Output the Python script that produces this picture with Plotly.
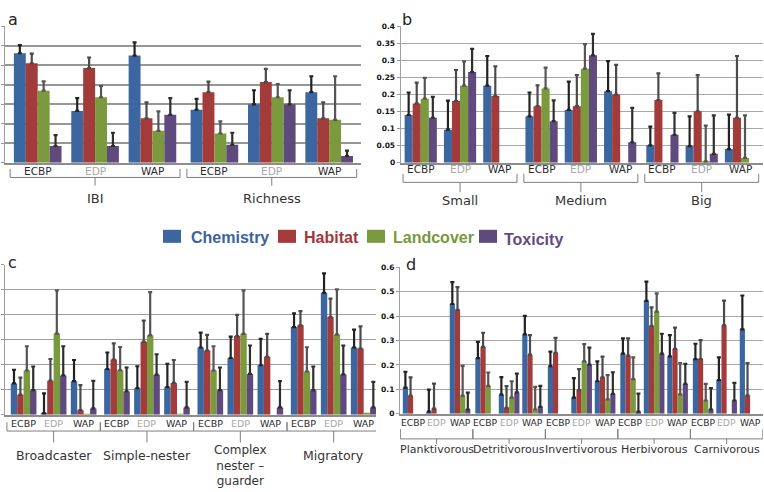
import numpy as np
import plotly.graph_objects as go

W, H = 764, 492

SERIES = ["Chemistry", "Habitat", "Landcover", "Toxicity"]
COLORS = ["#3b66a0", "#a23b39", "#7a9a3d", "#5f4a7e"]
TEXT_COLORS = ["#3a63a0", "#a0373a", "#78983c", "#634b82"]
ERR_COLORS = ["#222222", "#4a4a4a", "#555555", "#2e2e2e"]
SUBS = ["ECBP", "EDP", "WAP"]
SUB_COLORS = {"ECBP": "#2b2b2b", "EDP": "#a8a8a8", "WAP": "#2b2b2b"}

# ---------------- panel a ----------------
A_GROUPS = ["IBI", "Richness"]
A_CHEM = [0.281, 0.133, 0.275, 0.136, 0.150, 0.181]
A_CHEM_TOP = [0.302, 0.166, 0.309, 0.164, 0.186, 0.222]
A_HAB = [0.255, 0.243, 0.114, 0.181, 0.207, 0.114]
A_HAB_TOP = [0.280, 0.270, 0.155, 0.208, 0.241, 0.155]
A_LAND = [0.185, 0.168, 0.082, 0.075, 0.168, 0.110]
A_LAND_TOP = [0.209, 0.197, 0.132, 0.106, 0.202, 0.222]
A_TOX = [0.043, 0.043, 0.123, 0.046, 0.150, 0.017]
A_TOX_TOP = [0.071, 0.077, 0.166, 0.077, 0.186, 0.031]

# ---------------- panel b ----------------
B_GROUPS = ["Small", "Medium", "Big"]
B_CHEM = [0.140, 0.097, 0.226, 0.136, 0.155, 0.210, 0.051, 0.049, 0.040]
B_CHEM_TOP = [0.206, 0.182, 0.313, 0.206, 0.238, 0.298, 0.106, 0.136, 0.141]
B_HAB = [0.174, 0.181, 0.196, 0.166, 0.166, 0.200, 0.184, 0.151, 0.132]
B_HAB_TOP = [0.235, 0.272, 0.283, 0.227, 0.257, 0.287, 0.262, 0.257, 0.313]
B_LAND = [0.188, 0.226, 0, 0.218, 0.276, 0, 0, 0.004, 0.014]
B_LAND_TOP = [0.249, 0.297, None, 0.279, 0.348, None, None, 0.109, 0.139]
B_TOX = [0.132, 0.266, 0, 0.122, 0.315, 0.060, 0.082, 0.026, 0]
B_TOX_TOP = [0.193, 0.334, None, 0.183, 0.378, 0.161, 0.146, 0.139, None]

# ---------------- panel c ----------------
C_GROUPS = ["Broadcaster", "Simple-nester", "Complex<br>nester –<br>guarder", "Migratory"]
C_CHEM = [0.125, 0.005, 0.134, 0.183, 0.106, 0.110, 0.269, 0.227, 0.198, 0.351, 0.488, 0.269]
C_CHEM_TOP = [0.180, 0.085, 0.219, 0.249, 0.194, 0.204, 0.329, 0.313, 0.304, 0.406, 0.566, 0.341]
C_HAB = [0.080, 0.136, 0.018, 0.221, 0.292, 0.127, 0.257, 0.315, 0.232, 0.358, 0.391, 0.265]
C_HAB_TOP = [0.148, 0.223, 0.118, 0.286, 0.377, 0.219, 0.320, 0.400, 0.324, 0.415, 0.465, 0.354]
C_LAND = [0.177, 0.325, 0.002, 0.178, 0.318, 0.002, 0.177, 0.324, 0, 0.173, 0.321, 0.008]
C_LAND_TOP = [0.274, 0.498, None, 0.271, 0.491, None, 0.274, 0.498, None, 0.270, 0.502, None]
C_TOX = [0.098, 0.157, 0.025, 0.093, 0.160, 0.029, 0.098, 0.163, 0.029, 0.098, 0.161, 0.029]
C_TOX_TOP = [0.193, 0.274, 0.135, 0.189, 0.242, 0.131, 0.189, 0.277, 0.134, 0.193, 0.277, 0.131]

# ---------------- panel d ----------------
D_GROUPS = ["Planktivorous", "Detritivorous", "Invertivorous", "Herbivorous", "Carnivorous"]
D_CHEM = [0.107, 0.008, 0.450, 0.228, 0.078, 0.325, 0.195, 0.066, 0.133, 0.246, 0.463, 0.235, 0.224, 0.138, 0.346]
D_CHEM_TOP = [0.172, 0.099, 0.540, 0.295, 0.150, 0.401, 0.255, 0.146, 0.215, 0.309, 0.542, 0.322, 0.287, 0.231, 0.485]
D_HAB = [0.074, 0.021, 0.426, 0.274, 0.024, 0.242, 0.250, 0.097, 0.149, 0.238, 0.360, 0.266, 0.224, 0.362, 0.075]
D_HAB_TOP = [0.149, 0.123, 0.519, 0.332, 0.113, 0.322, 0.311, 0.183, 0.234, 0.309, 0.436, 0.353, 0.302, 0.464, 0.207]
D_LAND = [0, 0, 0.074, 0.114, 0.066, 0.017, 0, 0.215, 0.059, 0.142, 0.419, 0.079, 0.054, 0, 0]
D_LAND_TOP = [None, None, 0.196, 0.169, 0.133, 0.110, None, 0.285, 0.158, 0.231, 0.494, 0.207, 0.122, None, None]
D_TOX = [0, 0, 0.017, 0, 0.087, 0.028, 0, 0.201, 0.081, 0.008, 0.246, 0.122, 0.017, 0.054, 0]
D_TOX_TOP = [None, None, 0.086, None, 0.164, 0.114, None, 0.271, 0.170, 0.082, 0.328, 0.204, 0.105, 0.126, None]


def P(x):
    return x / W


def Q(y):
    return 1 - y / H


PANELS = [
    dict(letter="a", letter_xy=(6, 16), groups=A_GROUPS,
         vals=[A_CHEM, A_HAB, A_LAND, A_TOX], tops=[A_CHEM_TOP, A_HAB_TOP, A_LAND_TOP, A_TOX_TOP],
         gap=0.08, wf=0.83, xpx=(5, 361), ypx=(22.7, 161.7), ymax=0.35, dtick=0.05,
         labels=False, sub_size=10.5, sub_y=170.5, grp_size=13, hook=168, line=176.7, tick=185,
         label_y=198, ext=0.48, lead=0.57, tail=0.555, grid=("#969696", 1.8)),
    dict(letter="b", letter_xy=(400, 16), groups=B_GROUPS,
         vals=[B_CHEM, B_HAB, B_LAND, B_TOX], tops=[B_CHEM_TOP, B_HAB_TOP, B_LAND_TOP, B_TOX_TOP],
         gap=0.075, wf=0.82, xpx=(400.7, 763), ypx=(22.7, 161.7), ymax=0.4, dtick=0.05,
         labels=True, sub_size=10.5, sub_y=168.5, grp_size=13, hook=173, line=181.7, tick=191.7,
         label_y=200, ext=0.45, lead=0.51, tail=0.56, grid=("#a8a8a8", 1.2)),
    dict(letter="c", letter_xy=(6, 263), groups=C_GROUPS,
         vals=[C_CHEM, C_HAB, C_LAND, C_TOX], tops=[C_CHEM_TOP, C_HAB_TOP, C_LAND_TOP, C_TOX_TOP],
         gap=0.11, wf=0.855, xpx=(5, 376), ypx=(265.7, 418.3), ymax=0.6, dtick=0.1,
         labels=False, sub_size=9.5, sub_y=427, grp_size=12.5, hook=426, line=435, tick=446.7,
         label_y=460, ext=0.555, lead=0.62, tail=0.41, grid=("#a0a0a0", 1.4)),
    dict(letter="d", letter_xy=(404, 265), groups=D_GROUPS,
         vals=[D_CHEM, D_HAB, D_LAND, D_TOX], tops=[D_CHEM_TOP, D_HAB_TOP, D_LAND_TOP, D_TOX_TOP],
         gap=0.09, wf=0.88, xpx=(400, 763), ypx=(268.3, 417.3), ymax=0.6, dtick=0.1,
         labels=True, sub_size=9.2, sub_y=426, grp_size=11, hook=433, line=443, tick=448,
         label_y=454, ext=0.545, lead=0.56, tail=0.55, grid=("#a8a8a8", 1.3)),
]

fig = go.Figure()
shapes = []
annotations = []
FONT = "DejaVu Sans"

for pi, pn in enumerate(PANELS):
    sfx = "" if pi == 0 else str(pi + 1)
    xa, ya = "x" + sfx, "y" + sfx
    n = len(pn["groups"]) * 3
    pos = [i + pn["gap"] * (i // 3) for i in range(n)]
    wf = pn["wf"]
    xr = [-pn["lead"], pos[-1] + pn["tail"]]
    for k in range(4):
        vals = pn["vals"][k]
        tops = pn["tops"][k]
        plus = np.array([np.nan if t is None else max(t - v, 0) for v, t in zip(vals, tops)], dtype=float)
        minus = np.where(np.isnan(plus), np.nan, 0.0)
        yv = np.array([v if v else np.nan for v in vals], dtype=float)
        fig.add_trace(go.Bar(
            x=pos, y=yv, xaxis=xa, yaxis=ya, name=SERIES[k], showlegend=False,
            width=wf / 4, offset=-wf / 2 + k * wf / 4,
            marker=dict(color=COLORS[k], line=dict(width=0)),
            error_y=dict(type="data", symmetric=False, array=plus,
                         arrayminus=minus, color=ERR_COLORS[k],
                         thickness=2.2, width=2),
        ))
    fig.layout["xaxis" + sfx] = dict(
        domain=[P(pn["xpx"][0]), P(pn["xpx"][1])], anchor=ya,
        range=xr, showticklabels=False, ticks="",
        showgrid=False, zeroline=False,
        showline=True, linecolor="#8c8c8c", linewidth=1.5,
    )
    fig.layout["yaxis" + sfx] = dict(
        domain=[Q(pn["ypx"][1]), Q(pn["ypx"][0])], anchor=xa,
        range=[0, pn["ymax"] * 1.0005], dtick=pn["dtick"], tick0=0,
        showgrid=True, gridcolor=pn["grid"][0], gridwidth=pn["grid"][1], zeroline=False,
        showline=True, linecolor="#a0a0a0", linewidth=1.2,
        ticks="outside", ticklen=3, tickcolor="#999999",
        showticklabels=pn["labels"],
        tickfont=dict(family=FONT, size=7.5, color="#111111", weight="bold"),
    )
    # sub-category labels under each cluster (paper coords derived from the axis domain/range)
    d0, d1 = P(pn["xpx"][0]), P(pn["xpx"][1])
    for i in range(n):
        sub = SUBS[i % 3]
        xpaper = d0 + (pos[i] - xr[0]) / (xr[1] - xr[0]) * (d1 - d0)
        annotations.append(dict(
            x=xpaper, xref="paper", y=Q(pn["sub_y"]), yref="paper", text=sub, showarrow=False,
            xanchor="center", yanchor="middle",
            font=dict(family=FONT, size=pn["sub_size"], color=SUB_COLORS[sub]),
        ))
    # group brackets and labels
    for g, name in enumerate(pn["groups"]):
        p0, p2 = pos[3 * g], pos[3 * g + 2]
        left, right, mid = p0 - pn["ext"], p2 + pn["ext"], (p0 + p2) / 2
        yh, yl, yt = Q(pn["hook"]), Q(pn["line"]), Q(pn["tick"])
        shapes.append(dict(
            type="path", xref=xa, yref="paper", layer="below",
            path=f"M {left},{yh} L {left},{yl} L {right},{yl} L {right},{yh} M {mid},{yl} L {mid},{yt}",
            line=dict(color="#7f7f7f", width=1),
        ))
        multi = "<br>" in name
        annotations.append(dict(
            x=mid, xref=xa, y=Q(470 if multi else pn["label_y"]), yref="paper",
            text=name, showarrow=False, xanchor="center", yanchor="middle",
            font=dict(family=FONT, size=pn["grp_size"] - (0.5 if multi else 0), color="#333333"),
        ))
    lx, ly = pn["letter_xy"]
    annotations.append(dict(
        x=P(lx), y=Q(ly), xref="paper", yref="paper", text=pn["letter"], showarrow=False,
        xanchor="left", yanchor="middle",
        font=dict(family=FONT, size=16, color="#222222"),
    ))

# legend
LEGEND_BOX_X = [163, 278, 367, 479]
LEGEND_TEXT_X = [189, 302, 391, 502]
for k in range(4):
    shapes.append(dict(
        type="rect", xref="paper", yref="paper",
        x0=P(LEGEND_BOX_X[k]), x1=P(LEGEND_BOX_X[k] + 18), y0=Q(243.3), y1=Q(230),
        fillcolor=COLORS[k], line=dict(width=0),
    ))
    annotations.append(dict(
        x=P(LEGEND_TEXT_X[k]), y=Q(237.5 if k < 3 else 239.5), xref="paper", yref="paper",
        text=f"<b>{SERIES[k]}</b>", showarrow=False, xanchor="left", yanchor="middle",
        font=dict(family="Liberation Sans", size=16, color=TEXT_COLORS[k]),
    ))

fig.update_layout(
    width=W, height=H, margin=dict(l=0, r=0, t=0, b=0),
    paper_bgcolor="white", plot_bgcolor="white",
    barmode="overlay", shapes=shapes, annotations=annotations,
    showlegend=False,
)

fig.write_html("out.html", config={"displayModeBar": False},
               post_script="document.body.style.margin='0';")
